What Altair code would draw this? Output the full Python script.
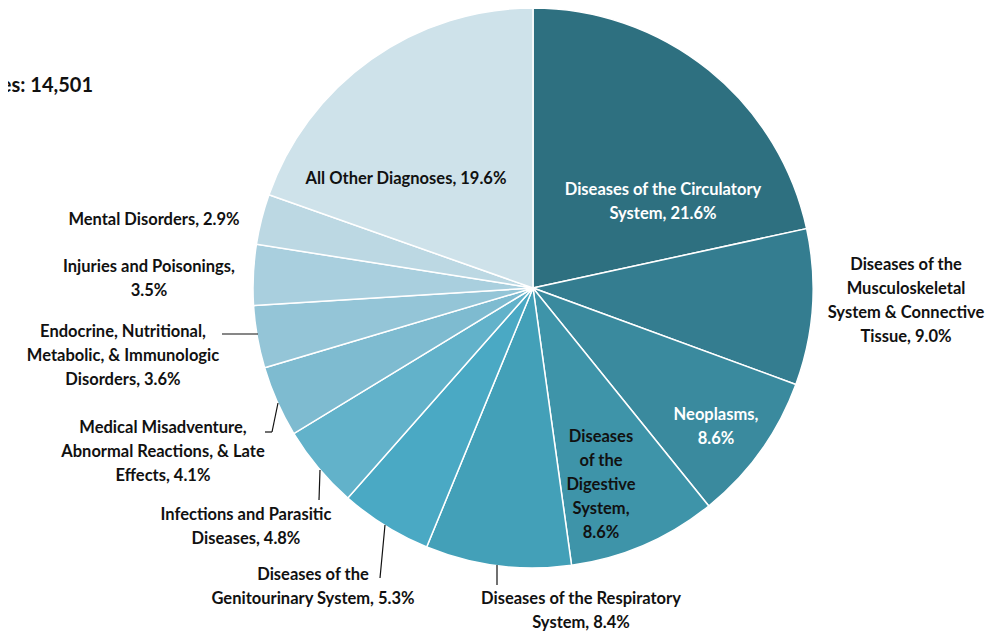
import altair as alt
import pandas as pd

categories = [
    "Diseases of the Circulatory System",
    "Diseases of the Musculoskeletal System & Connective Tissue",
    "Neoplasms",
    "Diseases of the Digestive System",
    "Diseases of the Respiratory System",
    "Diseases of the Genitourinary System",
    "Infections and Parasitic Diseases",
    "Medical Misadventure, Abnormal Reactions, & Late Effects",
    "Endocrine, Nutritional, Metabolic, & Immunologic Disorders",
    "Injuries and Poisonings",
    "Mental Disorders",
    "All Other Diagnoses",
]
percents = [21.6, 9.0, 8.6, 8.6, 8.4, 5.3, 4.8, 4.1, 3.6, 3.5, 2.9, 19.6]
label_texts = [
    "Diseases of the Circulatory\nSystem, 21.6%",
    "Diseases of the\nMusculoskeletal\nSystem & Connective\nTissue, 9.0%",
    "Neoplasms,\n8.6%",
    "Diseases\nof the\nDigestive\nSystem,\n8.6%",
    "Diseases of the Respiratory\nSystem, 8.4%",
    "Diseases of the\nGenitourinary System, 5.3%",
    "Infections and Parasitic\nDiseases, 4.8%",
    "Medical Misadventure,\nAbnormal Reactions, & Late\nEffects, 4.1%",
    "Endocrine, Nutritional,\nMetabolic, & Immunologic\nDisorders,  3.6%",
    "Injuries and Poisonings,\n3.5%",
    "Mental Disorders, 2.9%",
    "All Other Diagnoses, 19.6%",
]
colors = ["#2E7080", "#347D90", "#3A8A9E", "#3E94A9", "#43A0B8", "#4AA9C4",
          "#62B2CA", "#7EBBD0", "#94C5D7", "#A9CFDE", "#BCD8E3", "#CEE2EA"]
total_text = "Total Number of Diagnoses:  14,501"

# layout (plot-area pixel positions: label centre x, first-line y)
label_x = [655, 898, 708, 593, 573, 305, 238, 155, 115, 141, 146, 398]
label_y = [182, 257, 407, 429, 591, 567, 507, 420, 324, 259, 212, 171]
label_white = [True, False, True, False, False, False, False, False, False, False, False, False]

# leader line segments (plot-area pixels)
lead_x = [489, 377, 312, 257, 264, 214]
lead_y = [557, 517, 462, 424, 424, 326]
lead_x2 = [489, 372, 311, 264, 270, 250]
lead_y2 = [577, 570, 492, 424, 395, 326]

W, H = 989, 623
CX, CY, R = 525, 280, 280

df = pd.DataFrame({
    "cat": categories,
    "pct": percents,
    "order": list(range(len(categories))),
    "label": label_texts,
    "lx": label_x,
    "ly": label_y,
    "white": label_white,
})

color_scale = alt.Scale(domain=categories, range=colors)

shadow = alt.Chart(pd.DataFrame({"v": [1]})).mark_arc(
    radius=R + 2, color="#d9d9d9", opacity=0.7
).encode(theta=alt.Theta("v:Q"), x=alt.value(CX + 1), y=alt.value(CY + 2))

pie = alt.Chart(df).mark_arc(
    radius=R, stroke="white", strokeWidth=1.5
).encode(
    theta=alt.Theta("pct:Q", stack=True),
    order=alt.Order("order:Q"),
    color=alt.Color("cat:N", scale=color_scale, legend=None),
    x=alt.value(CX),
    y=alt.value(CY),
)

font = "Lato"

labels = alt.Chart(df).mark_text(
    font=font, fontSize=16.5, fontWeight="bold", lineBreak="\n",
    lineHeight=24, align="center", baseline="middle"
).encode(
    x=alt.X("lx:Q", scale=None, axis=None),
    y=alt.Y("ly:Q", scale=None, axis=None),
    text="label:N",
    color=alt.condition("datum.white", alt.value("white"), alt.value("#111111")),
)

leads_df = pd.DataFrame({"x": lead_x, "y": lead_y, "x2": lead_x2, "y2": lead_y2})
leads = alt.Chart(leads_df).mark_rule(color="#111111", strokeWidth=1.2).encode(
    x=alt.X("x:Q", scale=None, axis=None),
    y=alt.Y("y:Q", scale=None, axis=None),
    x2="x2:Q",
    y2="y2:Q",
)

total = alt.Chart(pd.DataFrame({"t": [total_text]})).mark_text(
    font=font, fontSize=20, fontWeight="bold", align="right", baseline="middle",
    color="#111111", clip=True
).encode(text="t:N", x=alt.value(85), y=alt.value(78))

chart = alt.layer(shadow, pie, leads, labels, total).properties(
    width=W, height=H,
    autosize=alt.AutoSizeParams(type="none"),
    padding=0,
).configure_view(stroke=None)

chart.save("out.html", embed_options={"renderer": "svg", "actions": False})
